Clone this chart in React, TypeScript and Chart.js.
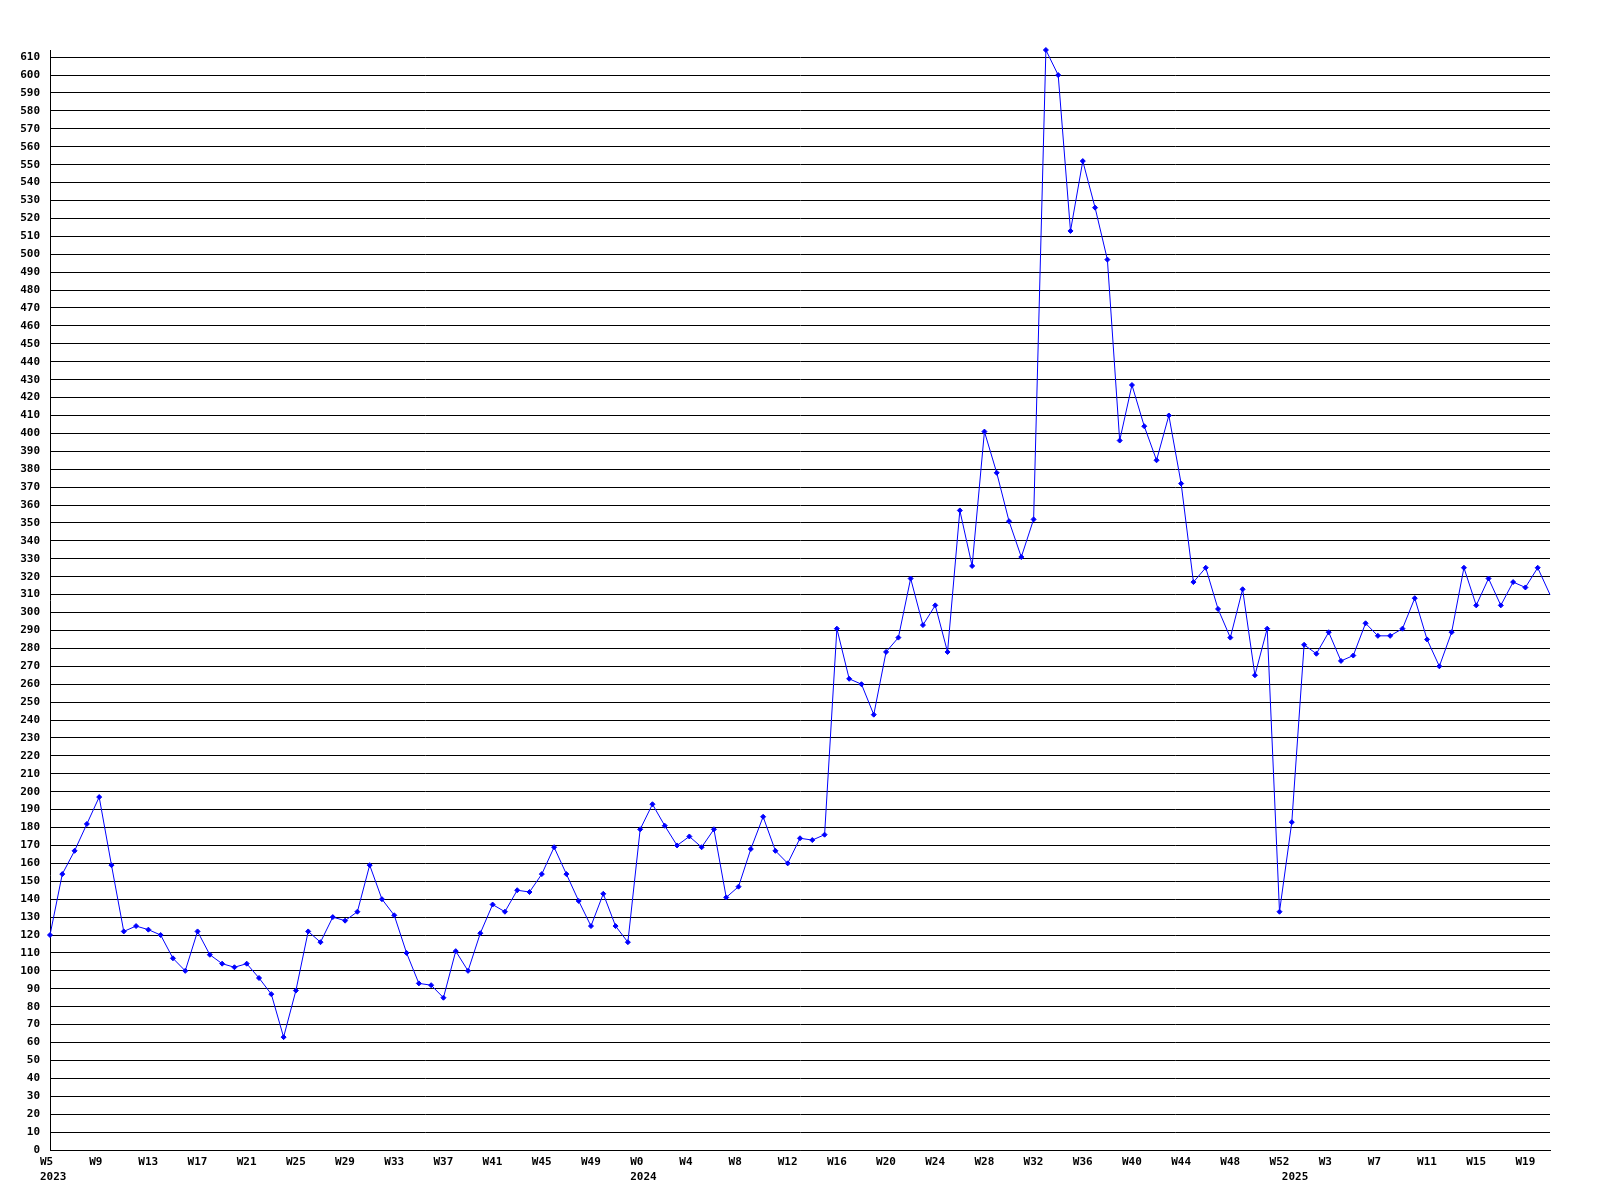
import React, { useEffect, useRef } from "react";
import { Chart, registerables } from "chart.js";

Chart.register(...registerables);

// Weekly values
const year2023 = "2023";
const firstWeek2023 = 5;
const values2023 = [
  120, 154, 167, 182, 197, 159, 122, 125, 123, 120, 107, 100, 122, 109, 104, 102,
  104, 96, 87, 63, 89, 122, 116, 130, 128, 133, 159, 140, 131, 110, 93, 92,
  85, 111, 100, 121, 137, 133, 145, 144, 154, 169, 154, 139, 125, 143, 125, 116,
];

const year2024 = "2024";
const firstWeek2024 = 0;
const values2024 = [
  179, 193, 181, 170, 175, 169, 179, 141, 147, 168, 186, 167, 160, 174, 173, 176,
  291, 263, 260, 243, 278, 286, 319, 293, 304, 278, 357, 326, 401, 378, 351, 331,
  352, 614, 600, 513, 552, 526, 497, 396, 427, 404, 385, 410, 372, 317, 325, 302,
  286, 313, 265, 291, 133,
];

const year2025 = "2025";
const firstWeek2025 = 0;
const values2025 = [
  183, 282, 277, 289, 273, 276, 294, 287, 287, 291, 308, 285, 270, 289, 325, 304,
  319, 304, 317, 314, 325, 310,
];

const yearBlocks = [
  { year: year2023, first: firstWeek2023, values: values2023 },
  { year: year2024, first: firstWeek2024, values: values2024 },
  { year: year2025, first: firstWeek2025, values: values2025 },
];

const weekLabels: string[] = [];
const yearStarts: Record<number, string> = {};
const allValues: number[] = [];
yearBlocks.forEach((b) => {
  yearStarts[weekLabels.length] = b.year;
  b.values.forEach((v, i) => {
    weekLabels.push("W" + (b.first + i));
    allValues.push(v);
  });
});

const yMax = 614;
const yStep = 10;
const yTickTop = 610;
const labelEvery = 4;

export default function App() {
  const ref = useRef<HTMLCanvasElement | null>(null);

  useEffect(() => {
    if (!ref.current) return;
    const tickFont = {
      family: "'DejaVu Sans Mono', monospace",
      size: 11,
      weight: "bold" as const,
      lineHeight: 1.4,
    };
    const radii = allValues.map((_, i) => (i === allValues.length - 1 ? 0 : 2.5));
    const chart = new Chart(ref.current, {
      type: "line",
      data: {
        labels: weekLabels,
        datasets: [
          {
            data: allValues,
            borderColor: "#0000ff",
            backgroundColor: "#0000ff",
            borderWidth: 1,
            pointStyle: "rectRot",
            pointRadius: radii,
            pointBackgroundColor: "#0000ff",
            pointBorderColor: "#0000ff",
            pointBorderWidth: 1,
            tension: 0,
            fill: false,
            clip: false,
          },
        ],
      },
      options: {
        animation: false,
        responsive: false,
        devicePixelRatio: 1,
        layout: { padding: { top: 50, right: 50, left: 0, bottom: 0 } },
        plugins: {
          legend: { display: false },
          tooltip: { enabled: false },
        },
        scales: {
          x: {
            type: "category",
            offset: false,
            grid: { display: false, drawTicks: false },
            border: { display: true, color: "#000000", width: 1 },
            afterFit: (scale: any) => {
              scale.height = 50;
            },
            ticks: {
              autoSkip: false,
              maxRotation: 0,
              minRotation: 0,
              align: "start",
              labelOffset: -10,
              padding: 4,
              color: "#000000",
              font: tickFont,
              callback: (_v: any, index: number) => {
                const wk = index % labelEvery === 0 ? weekLabels[index] : "";
                const yr = yearStarts[index];
                if (yr) return [wk, yr];
                return wk;
              },
            },
          },
          y: {
            min: 0,
            max: yMax,
            afterBuildTicks: (scale: any) => {
              const t: { value: number }[] = [];
              for (let v = 0; v <= yTickTop; v += yStep) t.push({ value: v });
              scale.ticks = t;
            },
            afterFit: (scale: any) => {
              scale.width = 50;
            },
            grid: {
              color: "#000000",
              lineWidth: 1,
              drawTicks: false,
            },
            border: { display: true, color: "#000000", width: 1 },
            ticks: {
              stepSize: yStep,
              autoSkip: false,
              padding: 10,
              color: "#000000",
              font: tickFont,
            },
          },
        },
      },
    });
    return () => chart.destroy();
  }, []);

  return (
    <div style={{ position: "absolute", left: 0, top: 0, width: 1600, height: 1200, background: "#ffffff" }}>
      <canvas ref={ref} width={1600} height={1200} style={{ display: "block" }} />
    </div>
  );
}
